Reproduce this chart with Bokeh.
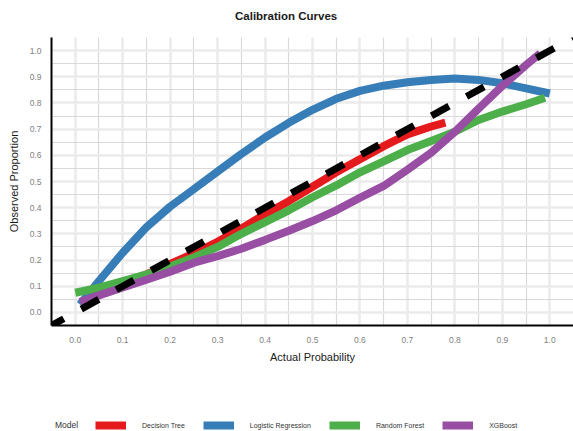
from bokeh.plotting import figure
from bokeh.layouts import column
from bokeh.models import (Legend, LegendItem, SingleIntervalTicker, PrintfTickFormatter,
                          Range1d, Slope)
from bokeh.embed import file_html
from bokeh.resources import INLINE

# ---- data ----
dt_x = [0.02, 0.05, 0.10, 0.15, 0.20, 0.25, 0.30, 0.35, 0.40, 0.45, 0.50, 0.55, 0.60, 0.65, 0.70, 0.75, 0.78]
dt_y = [0.05, 0.075, 0.11, 0.145, 0.185, 0.225, 0.27, 0.32, 0.375, 0.425, 0.48, 0.535, 0.585, 0.635, 0.68, 0.71, 0.725]

lr_x = [0.01, 0.05, 0.10, 0.15, 0.20, 0.25, 0.30, 0.35, 0.40, 0.45, 0.50, 0.55, 0.60, 0.65, 0.70, 0.75, 0.80, 0.85, 0.90, 0.95, 1.00]
lr_y = [0.03, 0.12, 0.228, 0.325, 0.404, 0.471, 0.538, 0.605, 0.668, 0.724, 0.774, 0.816, 0.846, 0.866, 0.879, 0.888, 0.893, 0.888, 0.875, 0.856, 0.836]

rf_x = [0.00, 0.05, 0.10, 0.15, 0.20, 0.25, 0.30, 0.35, 0.40, 0.45, 0.50, 0.55, 0.60, 0.65, 0.70, 0.75, 0.80, 0.85, 0.90, 0.95, 0.99]
rf_y = [0.075, 0.095, 0.12, 0.145, 0.175, 0.21, 0.25, 0.30, 0.345, 0.39, 0.44, 0.485, 0.535, 0.577, 0.62, 0.655, 0.69, 0.735, 0.767, 0.795, 0.82]

xgb_x = [0.01, 0.05, 0.10, 0.15, 0.20, 0.25, 0.30, 0.35, 0.40, 0.45, 0.50, 0.55, 0.60, 0.65, 0.70, 0.75, 0.80, 0.85, 0.90, 0.95, 0.98]
xgb_y = [0.04, 0.065, 0.095, 0.125, 0.155, 0.19, 0.215, 0.243, 0.277, 0.312, 0.349, 0.39, 0.438, 0.483, 0.545, 0.61, 0.69, 0.778, 0.865, 0.945, 0.99]

models = ["Decision Tree", "Logistic Regression", "Random Forest", "XGBoost"]
colors = ["#E41A1C", "#377EB8", "#4DAF4A", "#984EA3"]
title_text = "Calibration Curves"
tick_step = 0.1
axis_limits = (-0.05, 1.05)

FONT = "Liberation Sans"
LW = 8


def strip(height):
    """A blank, axis-less figure used to hold text rows above/below the chart."""
    s = figure(width=573, height=height, min_border=0,
               x_range=Range1d(10, 11), y_range=Range1d(10, 11),
               x_axis_location=None, y_axis_location=None,
               output_backend="svg", toolbar_location=None)
    s.outline_line_color = None
    s.xgrid.visible = False
    s.ygrid.visible = False
    s.background_fill_color = "white"
    s.border_fill_color = "white"
    return s


def text_legend(label, carrier, loc, size, style="normal", color="#333333"):
    return Legend(items=[LegendItem(label=label, renderers=[carrier])],
                  location=loc, orientation="horizontal",
                  glyph_width=0, glyph_height=10, label_standoff=0, label_height=10,
                  label_text_font=FONT, label_text_font_size=size,
                  label_text_font_style=style, label_text_color=color,
                  padding=0, margin=0, spacing=0,
                  background_fill_alpha=0, border_line_alpha=0)


# ---- title strip ----
tp = strip(30)
t_carrier = tp.line(dt_x, dt_y, line_alpha=0)
tp.add_layout(text_legend(title_text, t_carrier, (184, 8), "11.5px", "bold", "#1a1a1a"), "center")

# ---- main chart ----
p = figure(frame_width=522, frame_height=288,
           min_border_left=51, min_border_right=0, min_border_top=7, min_border_bottom=94,
           x_range=Range1d(*axis_limits), y_range=Range1d(*axis_limits),
           output_backend="svg", toolbar_location=None)

p.background_fill_color = "white"
p.border_fill_color = "white"
p.outline_line_color = None

for ax, grid, std, lab_std in ((p.xaxis[0], p.xgrid[0], 11, 5), (p.yaxis[0], p.ygrid[0], 10, 7)):
    t = SingleIntervalTicker(interval=tick_step, num_minor_ticks=2)
    ax.ticker = t
    grid.ticker = t
    ax.formatter = PrintfTickFormatter(format="%.1f")
    ax.major_tick_line_color = None
    ax.minor_tick_line_color = None
    ax.major_tick_out = 0
    ax.major_tick_in = 0
    ax.minor_tick_out = 0
    ax.major_label_standoff = std
    ax.major_label_text_font = FONT
    ax.major_label_text_font_size = "8.5px"
    ax.major_label_text_color = "#7F7F7F"
    ax.axis_line_color = "black"
    ax.axis_line_width = 2
    ax.axis_label_text_font = FONT
    ax.axis_label_text_font_size = "11px"
    ax.axis_label_text_font_style = "normal"
    ax.axis_label_text_color = "#1a1a1a"
    ax.axis_label_standoff = lab_std
    grid.grid_line_color = "#EBEBEB"
    grid.grid_line_width = 2.5
    grid.minor_grid_line_color = "#D9D9D9"
    grid.minor_grid_line_width = 1.2

p.xaxis[0].axis_label = "Actual Probability"
p.yaxis[0].axis_label = "Observed Proportion"

series = [(dt_x, dt_y), (lr_x, lr_y), (rf_x, rf_y), (xgb_x, xgb_y)]
for (xs, ys), col in zip(series, colors):
    p.line(xs, ys, line_color=col, line_width=LW)

# perfect calibration reference line
p.add_layout(Slope(gradient=1, y_intercept=0, line_color="black", line_width=7,
                   line_dash="20 20", line_dash_offset=6))

# ---- legend strip below the chart ----
lp = strip(12)
dummy = lp.line(dt_x, dt_y, line_alpha=0)
leg_renderers = [lp.line(xs, ys, line_color=c, line_width=LW) for (xs, ys), c in zip(series, colors)]

lp.add_layout(text_legend("Model", dummy, (4, 1), "8.5px"), "center")

leg = Legend(items=[LegendItem(label=m, renderers=[r]) for m, r in zip(models, leg_renderers)],
             location=(44, 1), orientation="horizontal",
             glyph_width=31, glyph_height=10, label_standoff=16, label_height=10, spacing=18,
             label_text_font=FONT, label_text_font_size="7px", label_text_color="#333333",
             padding=0, margin=0,
             background_fill_alpha=0, border_line_alpha=0)
lp.add_layout(leg, "center")

layout = column(tp, p, lp, spacing=0)
open("out.html", "w").write(file_html(layout, INLINE))
